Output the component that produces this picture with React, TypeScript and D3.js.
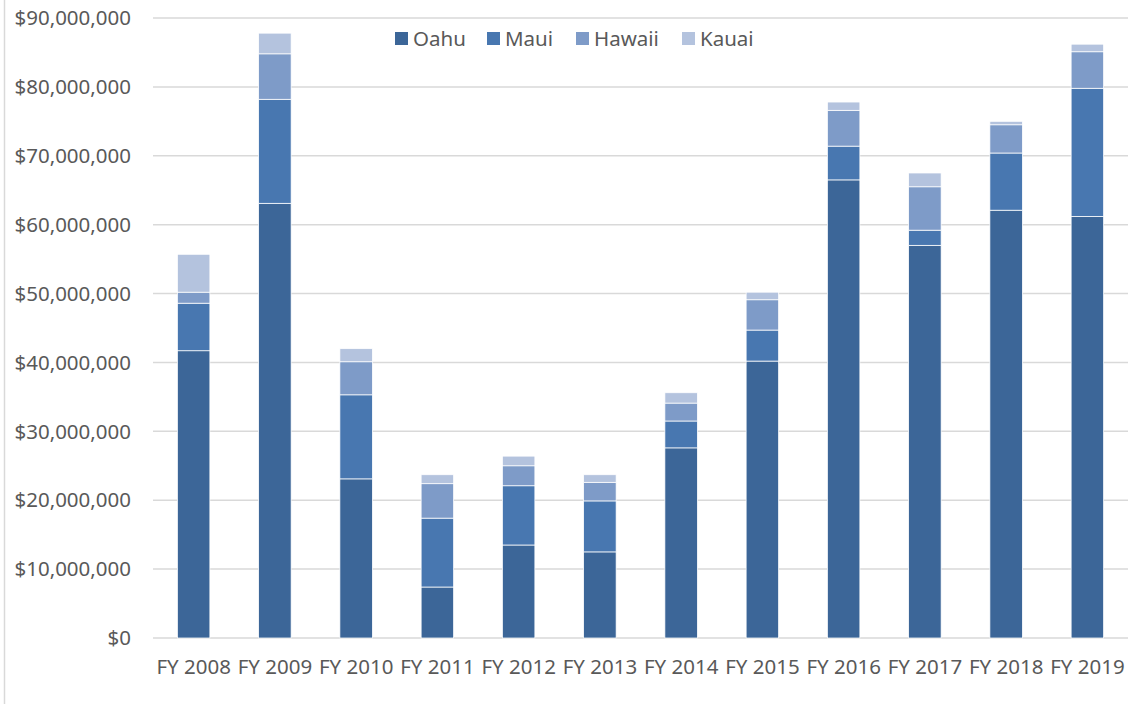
import React from "react";
import * as d3 from "d3";

const categories = ["FY 2008","FY 2009","FY 2010","FY 2011","FY 2012","FY 2013","FY 2014","FY 2015","FY 2016","FY 2017","FY 2018","FY 2019"];
const seriesNames = ["Oahu","Maui","Hawaii","Kauai"];
const oahu = [41.7,63.1,23.1,7.4,13.5,12.5,27.6,40.2,66.5,57.0,62.1,61.2];
const maui = [6.9,15.1,12.2,10.0,8.6,7.4,3.9,4.5,4.9,2.2,8.3,18.6];
const hawaii = [1.6,6.6,4.8,5.0,2.9,2.7,2.6,4.4,5.2,6.3,4.1,5.3];
const kauai = [5.5,3.0,1.9,1.3,1.4,1.1,1.5,1.1,1.2,2.0,0.5,1.1];
const yTicks = [0,10,20,30,40,50,60,70,80,90];
const colors = ["#3C6698","#4877B0","#7E9BC8","#B4C3DE"];

export default function App() {
  const W = 1128, H = 704;
  const left = 153, right = 1128, top = 18, bottom = 638;
  const x = d3.scaleBand<string>().domain(categories).range([left, right]).paddingInner(0.6).paddingOuter(0.3);
  const y = d3.scaleLinear().domain([0, 90]).range([bottom, top]);
  const rows = categories.map((c, i) => ({ cat: c, Oahu: oahu[i], Maui: maui[i], Hawaii: hawaii[i], Kauai: kauai[i] }));
  const stacked = d3.stack<any>().keys(seriesNames)(rows);
  const fmt = (v: number) => "$" + d3.format(",")(v * 1000000);
  const font = "'Noto Sans', sans-serif";
  const legendX = [395, 487, 576, 682];
  return (
    <svg width={W} height={H} style={{ position: "absolute", left: 0, top: 0, background: "#fff" }} fontFamily={font}>
      <line x1={4.5} x2={4.5} y1={0} y2={H} stroke="#D9D9D9" strokeWidth={1.5} />
      {yTicks.map(t => (
        <g key={t}>
          <line x1={left} x2={right} y1={y(t)} y2={y(t)} stroke="#D9D9D9" strokeWidth={1.5} />
          <text x={131} y={y(t)} dy="0.35em" textAnchor="end" fontSize={20.5} fill="#595959">{fmt(t)}</text>
        </g>
      ))}
      {stacked.map((s, si) => (
        <g key={s.key} fill={colors[si]}>
          {s.map((d, i) => (
            <rect key={i} x={x(categories[i])} width={x.bandwidth()} y={y(d[1])} height={y(d[0]) - y(d[1])} stroke="#fff" strokeWidth={0.75} />
          ))}
        </g>
      ))}
      {categories.map(c => (
        <text key={c} x={(x(c) as number) + x.bandwidth() / 2} y={674} textAnchor="middle" fontSize={20.5} fill="#595959">{c}</text>
      ))}
      {seriesNames.map((n, i) => (
        <g key={n}>
          <rect x={legendX[i]} y={32} width={13} height={13} fill={colors[i]} />
          <text x={legendX[i] + 18} y={46} fontSize={20.5} fill="#595959">{n}</text>
        </g>
      ))}
    </svg>
  );
}
